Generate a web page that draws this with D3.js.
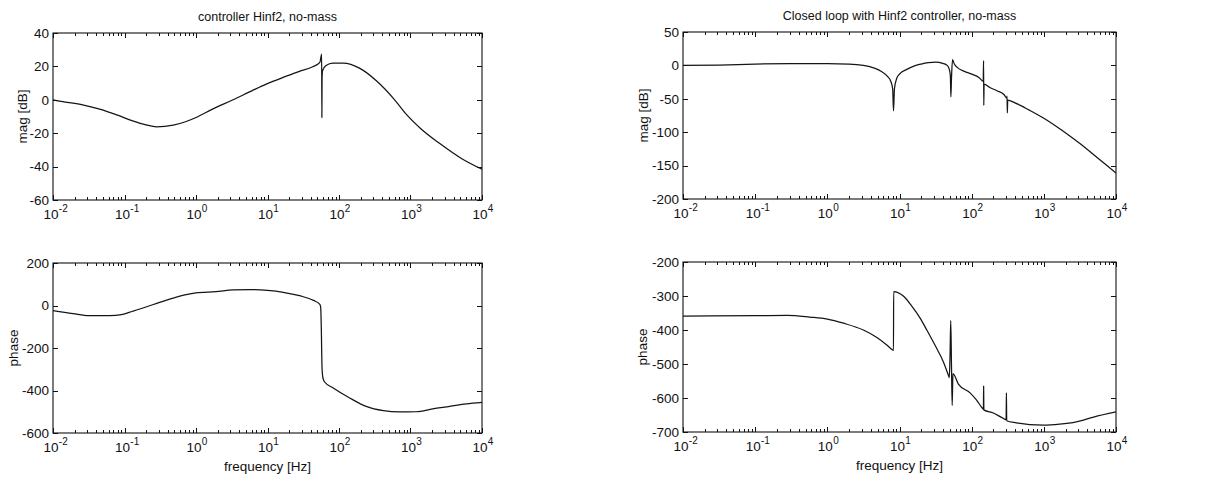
<!DOCTYPE html>
<html>
<head>
<meta charset="utf-8">
<script src="https://cdn.jsdelivr.net/npm/d3@7"></script>
<style>
  html, body { margin: 0; padding: 0; background: #fff; }
  svg { display: block; }
  text { font-family: "Liberation Sans", Arial, Helvetica, sans-serif; fill: #111; }
</style>
</head>
<body>
<svg id="fig" width="1226" height="487"></svg>
<script>
// ---- frequency axis (Hz), decade labels ----
const decadeExponents = ["-2", "-1", "0", "1", "2", "3", "4"];
const freqDomain = [0.01, 10000];

// ---- controller Hinf2: magnitude (dB) ----
const ctrlMagFreq = [0.01, 0.013, 0.026, 0.045, 0.078, 0.13, 0.2, 0.28, 0.48, 0.73, 1.0, 1.7, 3.3, 6.3, 9.6,
  16.5, 28, 43, 54, 57.2, 57.6, 58.0, 59, 66, 82, 115, 196, 333, 600, 870, 1420, 2570, 5370, 10000];
const ctrlMagDb = [0, -1, -3, -5.6, -9, -12.6, -15, -16.2, -15.2, -13, -10.6, -5.6, 0, 5.8, 9.4,
  13.4, 17, 19.8, 22.4, 27.4, -10.6, 13.4, 17.5, 20.5, 22, 22, 18.8, 11.4, 0, -8.6, -17.6, -26.2, -35.6, -41.6];

// ---- controller Hinf2: phase (deg) ----
const ctrlPhaseFreq = [0.01, 0.019, 0.032, 0.062, 0.091, 0.13, 0.2, 0.31, 0.48, 0.73, 1.0, 1.9, 3.3, 5.6, 10,
  16.6, 28, 44, 54, 55.5, 56.5, 58, 59.5, 63, 83, 141, 240, 417, 708, 1200, 2040, 3550, 6030, 10000];
const ctrlPhaseDeg = [-24, -38, -48, -48, -43, -27, -7, 15, 35, 51, 59, 65, 73, 75, 71,
  62, 46, 24, 5, -10, -100, -300, -340, -360, -388, -435, -475, -495, -501, -500, -487, -475, -463, -456];

// ---- closed loop: magnitude (dB) ----
const loopMagFreq = [0.01, 0.0316, 0.1, 0.316, 1, 2, 3.16, 4.47, 5.62, 6.76, 7.59, 8.04, 8.26, 8.51, 9.12,
  10, 12.6, 15.8, 20, 25.1, 31.6, 39.8, 45.7, 49, 50.7, 51.5, 52.5, 54.3, 57.5, 63, 79.4, 100, 126,
  144.5, 146.2, 147.2, 148.6, 178, 224, 282, 305, 309, 312, 316, 398, 631, 1000, 1778, 3162, 5623, 10000];
const loopMagDb = [0, 0.5, 2, 2.5, 2.5, 2, 0, -4, -9, -16, -24, -35, -68, -35, -20,
  -13, -6, -1, 2, 4, 5, 3, 0, -6, -16, -47, -20, 8.5, 2, -3, -9, -13, -18,
  -24, 7, -60, -28, -33, -38, -44, -49, -46, -71, -52, -56, -67, -79, -97, -117, -139, -161];

// ---- closed loop: phase (deg) ----
const loopPhaseFreq = [0.01, 0.1, 0.28, 0.57, 1, 1.67, 3.16, 4.86, 6.67, 8.07, 8.25, 8.3, 11.4, 14.8, 19.3,
  23.9, 31.1, 40.6, 47.6, 49, 50.2, 51.3, 52.5, 53.7, 55, 65.5, 95, 117, 142, 145.5, 146.5, 147.5,
  200, 280, 300, 303, 306, 417, 977, 1660, 2820, 4900, 10000];
const loopPhaseDeg = [-359, -358, -357, -362, -368, -380, -400, -422, -444, -459, -460, -287, -301, -330, -365,
  -400, -445, -494, -533, -540, -470, -372, -500, -622, -528, -559, -585, -606, -631, -633, -565, -635,
  -644, -661, -664, -584, -667, -673, -680, -677, -670, -656, -641];

// ---- value-axis ticks ----
const ctrlMagTicks = [40, 20, 0, -20, -40, -60];
const ctrlPhaseTicks = [200, 0, -200, -400, -600];
const loopMagTicks = [50, 0, -50, -100, -150, -200];
const loopPhaseTicks = [-200, -300, -400, -500, -600, -700];

const svg = d3.select("#fig");
const FONT = 13.5;

function drawPanel(cfg) {
  const { left, right, top, bottom } = cfg.box;
  const x = d3.scaleLog().domain(freqDomain).range([left, right]);
  const y = d3.scaleLinear().domain(cfg.yDomain).range([bottom, top]);
  const g = svg.append("g");

  const clipId = "clip" + cfg.id;
  g.append("clipPath").attr("id", clipId)
    .append("rect").attr("x", left).attr("y", top)
    .attr("width", right - left).attr("height", bottom - top);

  // response curve
  const pts = cfg.freq.map((f, i) => [f, cfg.vals[i]]);
  g.append("path")
    .datum(pts)
    .attr("clip-path", `url(#${clipId})`)
    .attr("fill", "none")
    .attr("stroke", "#151515")
    .attr("stroke-width", 1.25)
    .attr("stroke-linejoin", "round")
    .attr("d", d3.line().x(d => x(d[0])).y(d => y(d[1])).curve(d3.curveMonotoneX));

  // axes box
  g.append("rect")
    .attr("x", left).attr("y", top)
    .attr("width", right - left).attr("height", bottom - top)
    .attr("fill", "none").attr("stroke", "#111").attr("stroke-width", 1.1);

  // log ticks (inward, top and bottom)
  x.ticks().forEach(v => {
    const m = Math.round(v / Math.pow(10, Math.floor(Math.log10(v) + 1e-9)));
    const len = m === 1 ? 5 : 3;
    const px = Math.round(x(v)) + 0.5;
    g.append("line").attr("x1", px).attr("x2", px).attr("y1", bottom).attr("y2", bottom - len)
      .attr("stroke", "#111").attr("stroke-width", 1);
    g.append("line").attr("x1", px).attr("x2", px).attr("y1", top).attr("y2", top + len)
      .attr("stroke", "#111").attr("stroke-width", 1);
  });

  // decade labels 10^k
  decadeExponents.forEach(e => {
    const px = x(Math.pow(10, +e));
    g.append("text").attr("x", px - 2).attr("y", bottom + 19)
      .attr("text-anchor", "middle").attr("font-size", FONT).text("10");
    g.append("text").attr("x", px + 5.8).attr("y", bottom + 12)
      .attr("text-anchor", "start").attr("font-size", 10).text(e);
  });

  // value ticks (inward, left and right) and labels
  cfg.yTicks.forEach(v => {
    const py = Math.round(y(v)) + 0.5;
    g.append("line").attr("x1", left).attr("x2", left + 5).attr("y1", py).attr("y2", py)
      .attr("stroke", "#111");
    g.append("line").attr("x1", right).attr("x2", right - 5).attr("y1", py).attr("y2", py)
      .attr("stroke", "#111");
    g.append("text").attr("x", left - 4).attr("y", y(v) + 4.8)
      .attr("text-anchor", "end").attr("font-size", FONT).text(v);
  });

  // y label
  g.append("text")
    .attr("transform", `translate(${cfg.yLabelX},${(top + bottom) / 2}) rotate(-90)`)
    .attr("text-anchor", "middle").attr("font-size", FONT).text(cfg.yLabel);

  if (cfg.title) {
    g.append("text").attr("x", (left + right) / 2).attr("y", top - 12)
      .attr("text-anchor", "middle").attr("font-size", 12.5).text(cfg.title);
  }
  if (cfg.xLabel) {
    g.append("text").attr("x", (left + right) / 2).attr("y", bottom + 38)
      .attr("text-anchor", "middle").attr("font-size", FONT).text(cfg.xLabel);
  }
}

drawPanel({
  id: "a", box: { left: 53, right: 482, top: 33, bottom: 200 },
  freq: ctrlMagFreq, vals: ctrlMagDb, yDomain: [-60, 40], yTicks: ctrlMagTicks,
  yLabel: "mag [dB]", yLabelX: 27, title: "controller Hinf2, no-mass"
});
drawPanel({
  id: "b", box: { left: 53, right: 482, top: 263, bottom: 433 },
  freq: ctrlPhaseFreq, vals: ctrlPhaseDeg, yDomain: [-600, 200], yTicks: ctrlPhaseTicks,
  yLabel: "phase", yLabelX: 18, xLabel: "frequency [Hz]"
});
drawPanel({
  id: "c", box: { left: 683, right: 1116, top: 32, bottom: 199 },
  freq: loopMagFreq, vals: loopMagDb, yDomain: [-200, 50], yTicks: loopMagTicks,
  yLabel: "mag [dB]", yLabelX: 648, title: "Closed loop with Hinf2 controller, no-mass"
});
drawPanel({
  id: "d", box: { left: 683, right: 1116, top: 262, bottom: 432 },
  freq: loopPhaseFreq, vals: loopPhaseDeg, yDomain: [-700, -200], yTicks: loopPhaseTicks,
  yLabel: "phase", yLabelX: 647, xLabel: "frequency [Hz]"
});
</script>
</body>
</html>
